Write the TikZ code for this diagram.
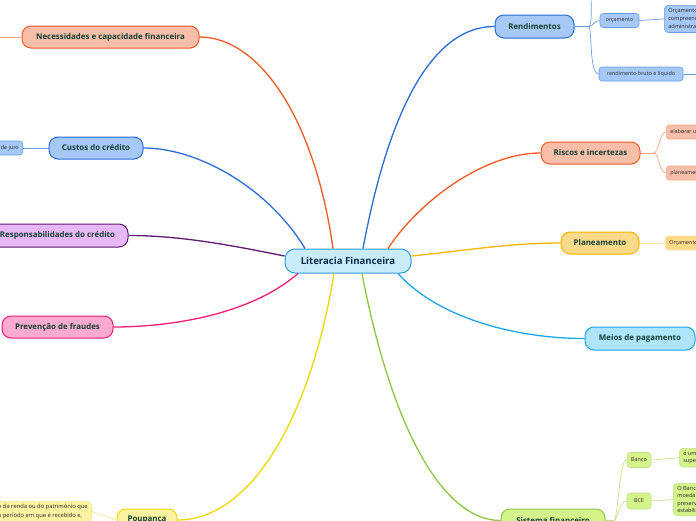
\documentclass[tikz,border=0pt]{standalone}
\usepackage{fontspec}
\setmainfont{Open Sans}
\usetikzlibrary{calc}
\definecolor{cenfill}{HTML}{C9ECFA}\definecolor{cenline}{HTML}{2F9BE0}\definecolor{centext}{HTML}{0D2B4A}
\definecolor{toptext}{HTML}{123F33}\definecolor{subtext}{HTML}{2A2A2A}
\definecolor{bluefill}{HTML}{A6C8F6}\definecolor{blueline}{HTML}{2A6DD8}\definecolor{bluesub}{HTML}{6A9CE8}
\definecolor{salfill}{HTML}{F9BEA9}\definecolor{salline}{HTML}{F15A24}\definecolor{salsub}{HTML}{F8A586}
\definecolor{orfill}{HTML}{FDD98A}\definecolor{orline}{HTML}{F6B400}\definecolor{orsub}{HTML}{FCE2A4}
\definecolor{cyfill}{HTML}{AEE5FB}\definecolor{cyline}{HTML}{1AA7EC}
\definecolor{grfill}{HTML}{D5F38B}\definecolor{grline}{HTML}{8DC63F}\definecolor{grsub}{HTML}{C4E48A}
\definecolor{yefill}{HTML}{FCF3A2}\definecolor{yeline}{HTML}{EED800}\definecolor{yesub}{HTML}{F3E690}
\definecolor{lafill}{HTML}{E8B8F6}\definecolor{laline}{HTML}{5E1A72}
\definecolor{pifill}{HTML}{FCAAD0}\definecolor{piline}{HTML}{EF1C7C}
\begin{document}
\begin{tikzpicture}[x=1pt,y=-1pt,
  topic/.style={draw, line width=1pt, rounded corners=9pt, minimum height=22pt, inner sep=0pt,
    font=\fontsize{7.9}{9}\selectfont\bfseries, text=toptext},
  subnode/.style={draw, line width=0.6pt, rounded corners=3pt, inner sep=0pt, minimum height=14pt,
    font=\fontsize{5.4}{6.5}\selectfont, text=subtext},
  edgenode/.style={subnode, anchor=west, inner xsep=4pt},
  descnode/.style={draw, line width=0.6pt, rounded corners=4pt, inner xsep=4pt, inner ysep=3pt,
    font=\fontsize{5.6}{7.8}\selectfont, text=subtext, align=left, anchor=north west},
  link/.style={line width=1.3pt},
  sublink/.style={line width=0.7pt}]
\useasboundingbox (0,0) rectangle (696,520);
\clip (0,0) rectangle (696,520);
\fill[white] (0,0) rectangle (696,520);

% centre
\node[topic, fill=cenfill, draw=cenline, minimum width=126pt, minimum height=24pt, rounded corners=10pt,
  font=\fontsize{9.6}{11}\selectfont\bfseries, text=centext] (lf) at (348,261) {Literacia Financeira};

% main topics
\node[topic, fill=bluefill, draw=blueline, minimum width=79pt, minimum height=23pt] (ren) at (534.5,26.5) {Rendimentos};
\node[topic, fill=salfill, draw=salline, minimum width=99pt] (ris) at (590.5,153) {Riscos e incertezas};
\node[topic, fill=orfill, draw=orline, minimum width=78pt] (pla) at (600,243) {Planeamento};
\node[topic, fill=cyfill, draw=cyline, minimum width=110pt, minimum height=23pt] (mei) at (640,338.5) {Meios de pagamento};
\node[topic, fill=grfill, draw=grline, minimum width=104pt, minimum height=23pt] (sis) at (553,520.5) {Sistema financeiro};
\node[topic, fill=yefill, draw=yeline, minimum width=60pt] (pou) at (147,520) {Poupança};
\node[topic, fill=salfill, draw=salline, minimum width=177pt] (nec) at (110.5,37) {Necessidades e capacidade financeira};
\node[topic, fill=bluefill, draw=blueline, minimum width=94pt] (cus) at (96,148) {Custos do crédito};
\node[topic, fill=lafill, draw=laline, minimum width=141pt, minimum height=23pt] (res) at (57.5,235.5) {Responsabilidades do crédito};
\node[topic, fill=pifill, draw=piline, minimum width=111pt] (pre) at (57.5,327) {Prevenção de fraudes};

% sub nodes
\node[subnode, fill=bluefill, draw=bluesub, minimum width=39pt] (orc) at (619.5,20.5) {orçamento};
\node[subnode, fill=bluefill, draw=bluesub, minimum width=84pt] (rbl) at (641,74) {rendimento bruto e líquido};
\node[descnode, fill=bluefill, draw=bluesub] (orcd) at (664,5) {Orçamento familiar\\compreende toda a\\administração};
\node[edgenode, fill=salfill, draw=salsub] (ela) at (666,132) {elaborar um orçamento};
\node[edgenode, fill=salfill, draw=salsub] (plm) at (666,173) {planeamento financeiro};
\node[edgenode, fill=orfill, draw=orsub] (plo) at (665,243) {Orçamento familiar};
\node[subnode, fill=grfill, draw=grsub, minimum width=24pt, minimum height=15pt] (ban) at (639,460) {Banco};
\node[subnode, fill=grfill, draw=grsub, minimum width=24pt, minimum height=16pt] (bce) at (639,501) {BCE};
\node[descnode, fill=grfill, draw=grsub, font=\fontsize{5.6}{7.2}\selectfont] (band) at (679,448) {é uma instituição\\supervisionada};
\node[descnode, fill=grfill, draw=grsub, font=\fontsize{5.6}{7.4}\selectfont] (bced) at (673,483) {O Banco Central\\moeda única\\preservar a\\estabilidade};
\node[subnode, fill=bluefill, draw=bluesub, anchor=east, inner xsep=4pt] (jur) at (23,148) {taxa de juro};
\node[descnode, fill=yefill, draw=yesub, anchor=north east, inner xsep=4pt, font=\fontsize{5.8}{8.6}\selectfont] (poud) at (92,501) {que corresponde à parte da renda ou do património que\\que não é consumida no período em que é recebido e,};
\coordinate (renup) at (591,-6);
\coordinate (rblout) at (700,74);
\coordinate (necout) at (-4,37);

% main connectors
\draw[link, blueline] ($(lf.north)+(15,0)$) .. controls (385,130) and (425,26.5) .. (ren.west);
\draw[link, salline] ($(lf.north)+(40,0)$) .. controls (420,200) and (485,153) .. (ris.west);
\draw[link, orline] ($(lf.east)+(0,-5)$) .. controls (470,250) and (510,243) .. (pla.west);
\draw[link, cyline] ($(lf.south)+(50,0)$) .. controls (440,320) and (520,338.5) .. (mei.west);
\draw[link, grline] ($(lf.south)+(14,0)$) .. controls (390,420) and (440,520.5) .. (sis.west);
\draw[link, yeline] ($(lf.south)+(-14,0)$) .. controls (310,420) and (250,520) .. (pou.east);
\draw[link, salline] ($(lf.north)+(-15,0)$) .. controls (315,120) and (260,37) .. (nec.east);
\draw[link, blueline] ($(lf.north)+(-43,0)$) .. controls (270,190) and (200,148) .. (cus.east);
\draw[link, laline] ($(lf.west)+(0,-5)$) .. controls (230,245) and (180,235.5) .. (res.east);
\draw[link, piline] ($(lf.south)+(-50,0)$) .. controls (250,315) and (170,327) .. (pre.east);

% sub connectors
\draw[sublink, bluesub] (ren.east) -- ++(14,0) coordinate (rf);
\draw[sublink, bluesub] (rf) .. controls +(5,0) and +(-6,0) .. (orc.west);
\draw[sublink, bluesub] (rf) .. controls +(4,0) and +(-10,0) .. (rbl.west);
\draw[sublink, bluesub] (rf) .. controls +(4,0) and +(0,10) .. (renup);
\draw[sublink, bluesub] (orc.east) -- (orcd.west);
\draw[sublink, bluesub] (rbl.east) -- (rblout);
\draw[sublink, salsub] (ris.east) -- ++(13,0) coordinate (rsf);
\draw[sublink, salsub] (rsf) .. controls +(6,0) and +(-7,0) .. (ela.west);
\draw[sublink, salsub] (rsf) .. controls +(6,0) and +(-7,0) .. (plm.west);
\draw[sublink, orsub] (pla.east) -- (plo.west);
\draw[sublink, grsub] (sis.east) -- ++(8,0) coordinate (sf);
\draw[sublink, grsub] (sf) .. controls +(5,0) and +(-8,0) .. (ban.west);
\draw[sublink, grsub] (sf) .. controls +(5,0) and +(-8,0) .. (bce.west);
\draw[sublink, grsub] (ban.east) -- (band.west);
\draw[sublink, grsub] (bce.east) -- (bced.west);
\draw[sublink, bluesub] (cus.west) -- (jur.east);
\draw[sublink, salsub] (nec.west) -- (necout);
\draw[sublink, yesub] (pou.west) -- (poud.east);
\end{tikzpicture}
\end{document}
